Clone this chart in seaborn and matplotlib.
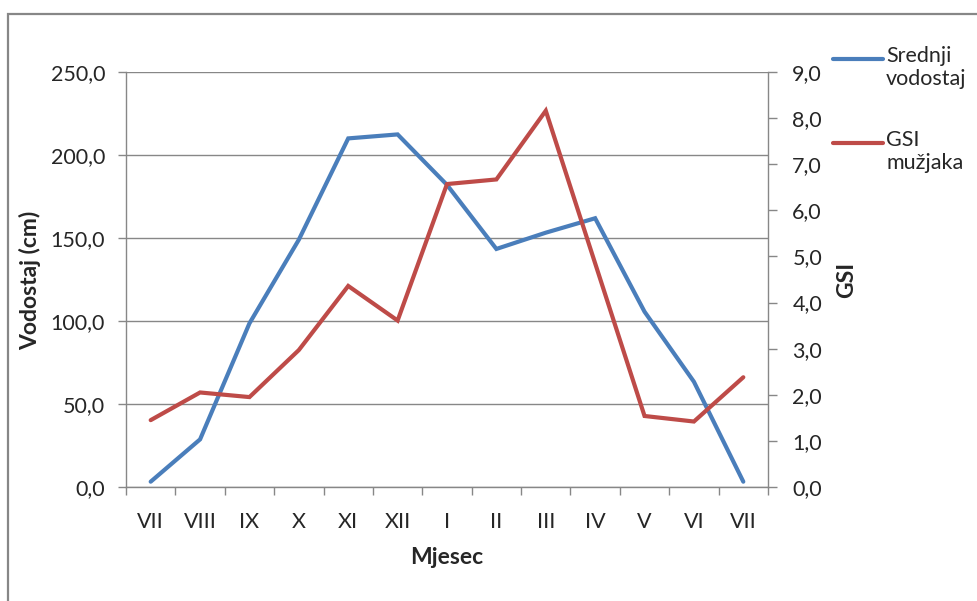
import matplotlib
matplotlib.use("Agg")
import matplotlib.pyplot as plt
import seaborn as sns
import pandas as pd
from matplotlib.lines import Line2D
from matplotlib.patches import Rectangle
from matplotlib.ticker import FixedLocator, FuncFormatter, MultipleLocator

# Months of the sampling year (July to July)
months = ["VII", "VIII", "IX", "X", "XI", "XII", "I", "II", "III", "IV", "V", "VI", "VII"]
# Mean water level (cm), left axis
vodostaj = [3.2, 28.7, 98.6, 149.0, 210.0, 212.4, 182.0, 143.4, 153.2, 161.9, 105.6, 63.4, 3.2]
# Gonadosomatic index of males, right axis
gsi = [1.45, 2.05, 1.95, 2.97, 4.36, 3.61, 6.57, 6.67, 8.16, 4.85, 1.54, 1.42, 2.38]
series_names = ["Srednji\nvodostaj", "GSI\nmužjaka"]

BLUE = "#4A7EBB"
RED = "#BE4B48"
GRAY = "#878787"
TEXT = "#262626"

sns.set_theme(style="white")
plt.rcParams["font.family"] = ["Lato", "DejaVu Sans"]
plt.rcParams["text.color"] = TEXT

W, H = 977, 601
fig = plt.figure(figsize=(W / 100, H / 100), dpi=100)
fig.patch.set_facecolor("white")

# chart-area frame
fig.patches.append(Rectangle((8 / W, -0.05), 1.2, 1 - 14 / H + 0.05,
                             transform=fig.transFigure, fill=False,
                             edgecolor=GRAY, linewidth=1.6, zorder=0))

x0, x1, y0, y1 = 126, 768, 72, 487
ax = fig.add_axes([x0 / W, 1 - y1 / H, (x1 - x0) / W, (y1 - y0) / H])

df = pd.DataFrame({"pos": range(len(months)), "vodostaj": vodostaj, "gsi": gsi})

sns.lineplot(data=df, x="pos", y="vodostaj", ax=ax, color=BLUE, linewidth=3.0,
             solid_capstyle="round", solid_joinstyle="miter")
ax2 = ax.twinx()
sns.lineplot(data=df, x="pos", y="gsi", ax=ax2, color=RED, linewidth=3.0,
             solid_capstyle="round", solid_joinstyle="miter")

ax.set_xlim(-0.5, len(months) - 0.5)
ax.set_ylim(0, 250)
ax2.set_ylim(0, 9)

comma = FuncFormatter(lambda v, p: f"{v:.1f}".replace(".", ","))

# left axis
ax.yaxis.set_major_locator(MultipleLocator(50))
ax.yaxis.set_major_formatter(comma)
ax.grid(axis="y", color=GRAY, linewidth=1.0)
ax.grid(axis="x", visible=False)
ax.tick_params(axis="y", which="major", left=True, length=6, width=1, color=GRAY,
               direction="out", pad=9, labelsize=15.5, labelcolor=TEXT)

# category axis: labels centred, ticks at the boundaries
ax.xaxis.set_major_locator(FixedLocator(range(len(months))))
ax.set_xticklabels(months)
ax.xaxis.set_minor_locator(FixedLocator([i - 0.5 for i in range(len(months) + 1)]))
ax.tick_params(axis="x", which="major", bottom=True, length=0, pad=18,
               labelsize=15.5, labelcolor=TEXT)
ax.tick_params(axis="x", which="minor", bottom=True, length=6, width=1,
               color=GRAY, direction="out")

# right axis
ax2.yaxis.set_major_locator(MultipleLocator(1))
ax2.yaxis.set_major_formatter(comma)
ax2.tick_params(axis="y", which="major", right=True, length=6.5, width=1, color=GRAY,
                direction="out", pad=11, labelsize=15.5, labelcolor=TEXT)
ax2.grid(False)

for a in (ax, ax2):
    for s in a.spines.values():
        s.set_visible(False)
ax.spines["left"].set_visible(True)
ax.spines["bottom"].set_visible(True)
ax2.spines["right"].set_visible(True)
for s in (ax.spines["left"], ax.spines["bottom"], ax2.spines["right"]):
    s.set_color(GRAY)
    s.set_linewidth(1.0)

ax.set_xlabel("Mjesec", fontsize=16.5, fontweight="bold", color=TEXT)
ax.xaxis.set_label_coords((447 - x0) / (x1 - x0), -(557 - y1) / (y1 - y0))
ax.xaxis.label.set_va("center")

ax.set_ylabel("Vodostaj (cm)", fontsize=16.5, fontweight="bold", color=TEXT)
ax.yaxis.label.set_va("center")
ax.yaxis.set_label_coords((30 - x0) / (x1 - x0), (y1 - 280) / (y1 - y0))

ax2.set_ylabel("GSI", fontsize=16.5, fontweight="bold", color=TEXT, rotation=90)
ax2.yaxis.label.set_va("center")
ax2.yaxis.set_label_coords((847 - x0) / (x1 - x0), (y1 - 280) / (y1 - y0))

# legend at the right
for name, color, ly in zip(series_names, [BLUE, RED], [59, 143]):
    fig.add_artist(Line2D([833 / W, 883 / W], [1 - ly / H, 1 - ly / H],
                          color=color, linewidth=3.0, transform=fig.transFigure))
    fig.text(886 / W, 1 - (ly - 13) / H, name, fontsize=15.5, color=TEXT,
             ha="left", va="top", linespacing=1.2)

fig.savefig("out.png", dpi=100)
